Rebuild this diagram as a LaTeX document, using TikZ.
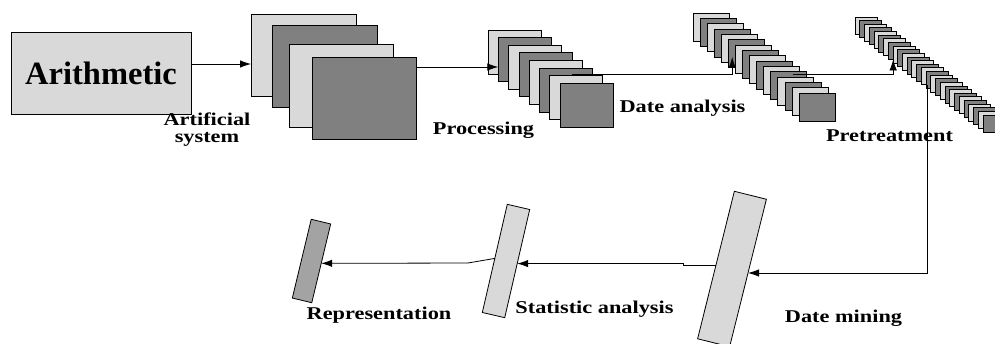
\documentclass[tikz,border=0pt]{standalone}
\usepackage{fontspec}
\setmainfont{Liberation Serif}
\newfontfamily\lblfont[FakeStretch=1.24]{Liberation Serif}
\usetikzlibrary{arrows.meta}
\definecolor{lightg}{gray}{0.85}
\definecolor{darkg}{gray}{0.5}
\definecolor{midg}{gray}{0.64}
\begin{document}
\begin{tikzpicture}[x=1pt,y=-1pt,
  box/.style={draw=black, line width=0.8pt, inner sep=0pt, outer sep=0pt},
  stackbox/.style={box, anchor=north west},
  arr/.style={draw=black, line width=0.8pt, -{Latex[length=11pt,width=7.5pt]}},
  lbl/.style={font=\lblfont\bfseries\fontsize{18}{17}\selectfont, inner sep=0pt, anchor=base}]
\clip (0,0) rectangle (995,343);
% Arithmetic
\node[box, fill=lightg, minimum width=180, minimum height=82,
      font=\bfseries\fontsize{32.5}{38}\selectfont] (ari) at (101,73) {Arithmetic};
% Artificial system stack
\node[stackbox, fill=lightg, minimum width=105, minimum height=82] (s0) at (251,14) {};
\node[stackbox, fill=darkg,  minimum width=105, minimum height=82] (s1) at (272,25) {};
\node[stackbox, fill=lightg, minimum width=104, minimum height=83] (s2) at (289,44) {};
\node[stackbox, fill=darkg,  minimum width=104, minimum height=82] (s3) at (312,57) {};
% Processing stack
\foreach \i in {0,...,7}{
  \pgfmathtruncatemacro{\od}{mod(\i,2)}
  \ifnum\od=0 \def\fc{lightg}\else\def\fc{darkg}\fi
  \node[stackbox, fill=\fc, minimum width=53, minimum height=44] (p\i) at (488+10.3*\i,30+7.6*\i) {};
}
% Date analysis stack
\foreach \i in {0,...,15}{
  \pgfmathtruncatemacro{\od}{mod(\i,2)}
  \ifnum\od=0 \def\fc{lightg}\else\def\fc{darkg}\fi
  \node[stackbox, fill=\fc, minimum width=36, minimum height=28] (d\i) at (693+7.07*\i,13+5.33*\i) {};
}
% Pretreatment stack
\foreach \i in {0,...,27}{
  \pgfmathtruncatemacro{\od}{mod(\i,2)}
  \ifnum\od=0 \def\fc{lightg}\else\def\fc{darkg}\fi
  \node[stackbox, fill=\fc, minimum width=22, minimum height=17] (t\i) at (855+4.74*\i,17+3.63*\i) {};
}
% Bars
\node[box, fill=lightg, minimum width=33, minimum height=152, rotate=-14] (dm) at (732,269) {};
\node[box, fill=lightg, minimum width=23, minimum height=111, rotate=-13] (st) at (506,261) {};
\node[box, fill=midg, minimum width=20, minimum height=81, rotate=-13.5] (rep) at (311.5,261) {};
% Labels
\node[lbl] (l1a) at (207,125) {Artificial};
\node[lbl] (l1b) at (207,142) {system};
\node[lbl] (l2) at (483.5,134) {Processing};
\node[lbl] (l3) at (682.5,112) {Date analysis};
\node[lbl] (l4) at (889.5,141) {Pretreatment};
\node[lbl] (l5) at (379,319) {Representation};
\node[lbl] (l6) at (594.5,313) {Statistic analysis};
\node[lbl] (l7) at (843.5,322) {Date mining};
% Connectors
\coordinate (c0) at ([yshift=9pt]ari.east);
\draw[arr] (c0) -- (c0 -| s0.west);
\coordinate (c1) at ([yshift=31pt]s3.east);
\draw[arr] (c1) -- (c1 -| p1.west);
\coordinate (c2) at ([xshift=6pt,yshift=-6pt]p5.north);
\draw[arr] (c2) -| (d3.south);
\coordinate (c3) at ([xshift=4pt,yshift=-2.4pt]d11.north);
\coordinate (c3t) at ([xshift=-6pt]t7.south);
\draw[arr] (c3) -| (c3t);
\coordinate (c4) at ([xshift=-5pt]t14.south);
\draw[arr] (c4) |- (dm.east);
\draw[arr] (dm.west) -- ++(-33,0) |- (st.east);
\draw[arr] (st.west) -- ++(-27,4.6) -- (rep.east);
\end{tikzpicture}
\end{document}
